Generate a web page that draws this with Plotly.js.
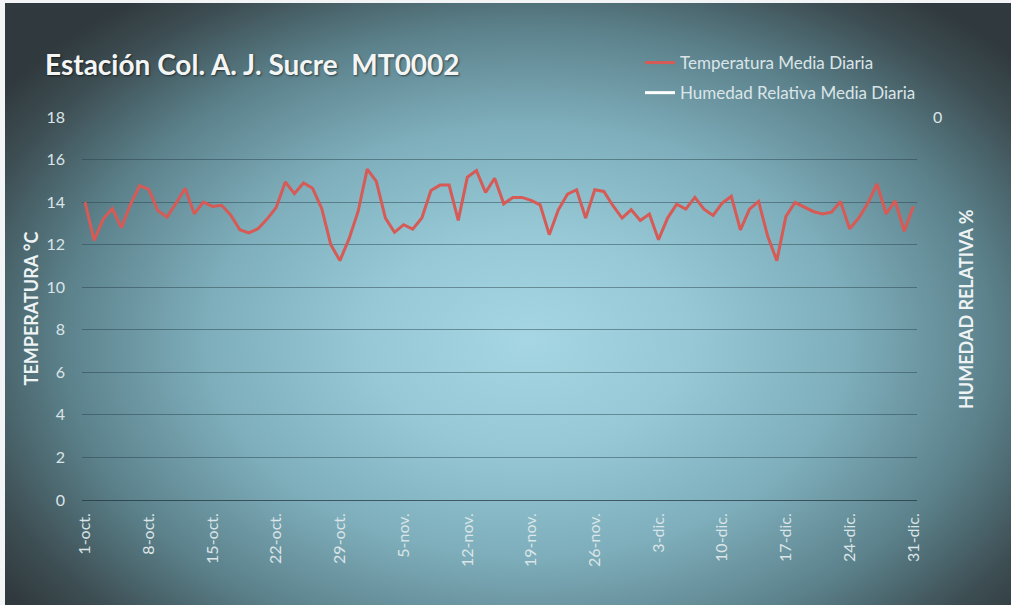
<!DOCTYPE html>
<html>
<head>
<meta charset="utf-8">
<script src="https://cdn.plot.ly/plotly-3.0.1.min.js"></script>
<style>
  html, body { margin: 0; padding: 0; background: #f3f4f6; }
  #wrap { position: relative; width: 1011px; height: 605px; overflow: hidden; background: #f3f4f6; }
  #bg { position: absolute; left: 5px; top: 3px; right: 0; bottom: 0;
        background: radial-gradient(ellipse 64% 72% at 52% 56%, #a6d6e3 0%, #96c8d6 25%, #7eaebb 50%, #5c828c 72%, #3d4e53 90%, #30393d 100%); }
  #chart { position: absolute; left: 0; top: 0; width: 1011px; height: 605px; }
</style>
</head>
<body>
<div id="wrap">
  <div id="bg"></div>
  <div id="chart"></div>
</div>
<script>
// Daily dates, 1 Oct to 31 Dec
const startDate = '2015-10-01';
const dayCount = 92;

// Temperatura Media Diaria (°C)
const temperatura = [
  14.0, 12.2, 13.2, 13.7, 12.8, 13.9, 14.77, 14.6, 13.6, 13.3,
  13.95, 14.65, 13.45, 14.0, 13.8, 13.85, 13.4, 12.7, 12.55, 12.75,
  13.2, 13.75, 14.95, 14.4, 14.9, 14.65, 13.7, 12.0, 11.25, 12.27,
  13.56, 15.55, 14.97, 13.25, 12.58, 12.94, 12.73, 13.25, 14.55, 14.8,
  14.8, 13.14, 15.17, 15.48, 14.45, 15.12, 13.92, 14.22, 14.22, 14.08,
  13.87, 12.47, 13.64, 14.37, 14.58, 13.25, 14.58, 14.5, 13.83, 13.25,
  13.64, 13.14, 13.44, 12.23, 13.25, 13.9, 13.67, 14.22, 13.67, 13.375,
  13.95, 14.27, 12.7, 13.67, 14.03, 12.39, 11.25, 13.33, 13.98, 13.77,
  13.56, 13.44, 13.53, 14.03, 12.75, 13.25, 13.95, 14.86, 13.45, 14.06,
  12.63, 13.8
];

// Humedad Relativa Media Diaria (%): no values drawn in the picture
const humedad = [null];

// Tick labels
const tickDates = ['2015-10-01','2015-10-08','2015-10-15','2015-10-22','2015-10-29',
  '2015-11-05','2015-11-12','2015-11-19','2015-11-26','2015-12-03',
  '2015-12-10','2015-12-17','2015-12-24','2015-12-31'];
const tickLabels = ['1-oct.','8-oct.','15-oct.','22-oct.','29-oct.',
  '5-nov.','12-nov.','19-nov.','26-nov.','3-dic.',
  '10-dic.','17-dic.','24-dic.','31-dic.'];
const yTicks = [0, 2, 4, 6, 8, 10, 12, 14, 16, 18];

const dates = [];
{
  const d0 = new Date(startDate + 'T00:00:00Z');
  for (let i = 0; i < dayCount; i++) {
    const d = new Date(d0.getTime() + i * 86400000);
    dates.push(d.toISOString().slice(0, 10));
  }
}

const FONT = 'Lato, "Open Sans", sans-serif';
const TXT = '#dbe5e8';

const traces = [
  {
    x: dates, y: temperatura, type: 'scatter', mode: 'lines',
    name: 'Temperatura Media Diaria',
    line: { color: '#d65a55', width: 3 },
    legendgroup: 'a', hoverinfo: 'x+y'
  },
  {
    x: humedad.map((_, i) => dates[i]), y: humedad, type: 'scatter', mode: 'lines',
    name: 'Humedad Relativa Media Diaria', yaxis: 'y2',
    line: { color: '#ffffff', width: 3 },
    legendgroup: 'b', showlegend: true
  }
];

const layout = {
  width: 1011, height: 605,
  paper_bgcolor: 'rgba(0,0,0,0)',
  plot_bgcolor: 'rgba(0,0,0,0)',
  margin: { l: 82, r: 94, t: 117, b: 105, autoexpand: false },
  font: { family: FONT, color: TXT, size: 16 },
  title: {
    text: '<b>Estación Col. A. J. Sucre  MT0002</b>',
    xref: 'container', yref: 'container',
    x: 45 / 1011, xanchor: 'left',
    y: 1 - 65 / 605, yanchor: 'middle',
    font: { family: FONT, size: 28, color: '#f4f6f6', shadow: '1px 1px 2px rgba(0,0,0,0.55)' }
  },
  showlegend: true,
  legend: {
    x: 640 / 1011, xref: 'container', xanchor: 'left',
    y: 1 - 45 / 605, yref: 'container', yanchor: 'top',
    bgcolor: 'rgba(0,0,0,0)',
    font: { family: FONT, size: 17, color: TXT },
    traceorder: 'grouped', tracegroupgap: 5
  },
  xaxis: {
    type: 'date', automargin: false,
    range: ['2015-09-30 16:00', '2015-12-31 09:36'],
    tickmode: 'array', tickvals: tickDates, ticktext: tickLabels,
    tickangle: -90, ticks: '', showgrid: false, zeroline: false,
    showline: false,
    tickfont: { family: FONT, size: 16, color: TXT },
    ticklabelstandoff: 9
  },
  yaxis: {
    range: [0, 18], tickmode: 'array', tickvals: yTicks, automargin: false,
    showgrid: true, gridcolor: 'rgba(35,60,70,0.45)', gridwidth: 1,
    zeroline: true, zerolinecolor: 'rgba(30,50,58,0.7)', zerolinewidth: 1,
    ticks: '', showline: false,
    tickfont: { family: FONT, size: 16, color: TXT },
    ticklabelstandoff: 16,
    title: { text: '<b>TEMPERATURA °C</b>', font: { family: FONT, size: 18, color: '#eef3f4' }, standoff: 3 }
  },
  yaxis2: {
    overlaying: 'y', side: 'right', range: [-1, 0], automargin: false,
    tickmode: 'array', tickvals: [0], ticktext: ['0'],
    showgrid: false, zeroline: false, ticks: '', showline: false,
    tickfont: { family: FONT, size: 16, color: TXT },
    ticklabelstandoff: 15
  },
  annotations: [
    {
      text: '<b>HUMEDAD RELATIVA %</b>',
      xref: 'paper', yref: 'paper',
      x: 1 + (966 - 917) / 835, y: 0.5 - (309 - 308.5) / 383,
      xanchor: 'center', yanchor: 'middle', textangle: -90, showarrow: false,
      font: { family: FONT, size: 18, color: '#eef3f4' }
    }
  ]
};

Plotly.newPlot('chart', traces, layout, { displayModeBar: false, staticPlot: true });
</script>
</body>
</html>
